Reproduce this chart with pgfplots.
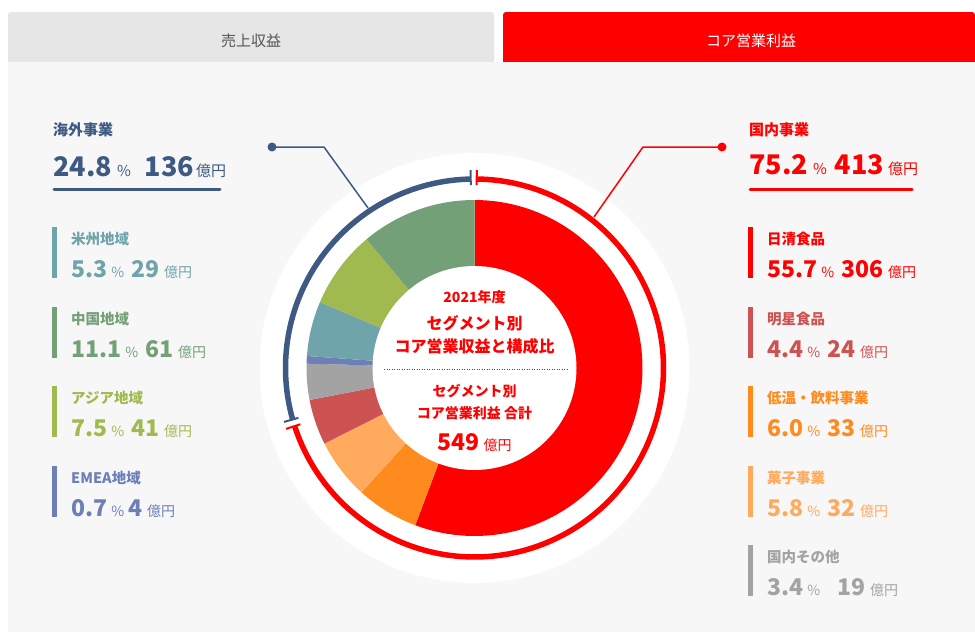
\documentclass[border=0pt]{standalone}
\usepackage{fontspec}
\setmainfont{Noto Sans CJK JP}
\usepackage{pgfplots}
\pgfplotsset{compat=1.18}
\definecolor{cRed}{HTML}{FF0000}
\definecolor{cMyojo}{HTML}{CD5252}
\definecolor{cTeion}{HTML}{FF8A1E}
\definecolor{cKashi}{HTML}{FFAA5C}
\definecolor{cOther}{HTML}{A3A3A3}
\definecolor{cEmea}{HTML}{6C7FB6}
\definecolor{cAme}{HTML}{6FA4AA}
\definecolor{cAsia}{HTML}{A1BA50}
\definecolor{cChina}{HTML}{74A077}
\definecolor{cBlue}{HTML}{3E5A82}
\definecolor{cPanel}{HTML}{F7F7F7}
\definecolor{cTab}{HTML}{E6E6E6}
\definecolor{cTabTxt}{HTML}{555555}
\newcommand{\fs}[1]{\fontsize{#1}{#1}\selectfont}
% donut slice: start, end (cumulative 億円, total 549), colour
\newcommand{\seg}[3]{%
  \addplot[draw=none, fill=#3, domain=#1:#2, samples=90, variable=\t]
    ({474.5+168*cos(90-\t*360/549)}, {368-168*sin(90-\t*360/549)}) -- (474.5,368) -- cycle;}
% side item: x of bar, top y, colour, label, pct, value, extra space
\newcommand{\sub}[7]{%
  \fill[#3] (#1,#2) rectangle (#1+5,#2+51);
  \node[anchor=base west, inner sep=0, text=#3] at (#1+19,#2+17) {\fs{14.5}\bfseries #4};
  \node[anchor=base west, inner sep=0, text=#3] at (#1+19,#2+50)
    {{\fs{23}\bfseries #5}\hspace{4pt}{\fs{14}\%}\hspace{#7}{\fs{23}\bfseries #6}\hspace{5pt}{\fs{14}億円}};}
\begin{document}
\begin{tikzpicture}
\begin{axis}[x=1pt, y=1pt, xmin=0, xmax=975, ymin=0, ymax=632, y dir=reverse,
  hide axis, scale only axis, clip=false]
% background and tabs
\fill[white] (0,0) rectangle (975,632);
\fill[cTab, rounded corners=3pt] (8,12) rectangle (494,72);
\fill[cRed, rounded corners=3pt] (503,12) rectangle (975,72);
\fill[cPanel] (8,62) rectangle (975,632);
\node[anchor=base, inner sep=0, text=cTabTxt] at (251,46) {\fs{15}売上収益};
\node[anchor=base, inner sep=0, text=white] at (751,46) {\fs{15}コア営業利益};
% halo
\fill[white] (474.5,368) circle[radius=215pt];
% donut slices
\seg{0}{306}{cRed}
\seg{306}{339}{cTeion}
\seg{339}{371}{cKashi}
\seg{371}{395}{cMyojo}
\seg{395}{414}{cOther}
\seg{414}{418}{cEmea}
\seg{418}{447}{cAme}
\seg{447}{488}{cAsia}
\seg{488}{549}{cChina}
\fill[white] (474.5,368) circle[radius=102pt];
% outer ring
\addplot[draw=cBlue, line width=5.5pt, domain=91.15:195.8, samples=100, variable=\t]
  ({474.5+189*cos(\t)}, {368-189*sin(\t)});
\addplot[draw=cRed, line width=5.5pt, domain=197.9:449.33, samples=160, variable=\t]
  ({474.5+189*cos(\t)}, {368-189*sin(\t)});
\draw[cBlue, line width=2pt] ({474.5+183*cos(91.15)},{368-183*sin(91.15)}) -- ({474.5+198*cos(91.15)},{368-198*sin(91.15)});
\draw[cRed, line width=2pt] ({474.5+183*cos(89.33)},{368-183*sin(89.33)}) -- ({474.5+198*cos(89.33)},{368-198*sin(89.33)});
\draw[cBlue, line width=2pt] ({474.5+183*cos(195.8)},{368-183*sin(195.8)}) -- ({474.5+198*cos(195.8)},{368-198*sin(195.8)});
\draw[cRed, line width=2pt] ({474.5+183*cos(197.9)},{368-183*sin(197.9)}) -- ({474.5+198*cos(197.9)},{368-198*sin(197.9)});
% leader lines
\draw[cBlue, line width=1.5pt] (272,147) -- (324,147) -- (368,208);
\fill[cBlue] (272,147) circle[radius=4.5pt];
\draw[cRed, line width=1.5pt] (722,147) -- (643,147) -- (594,217);
\fill[cRed] (722,147) circle[radius=4.5pt];
% centre text
\node[anchor=base, inner sep=0, text=cRed] at (474.5,302) {\fs{14}\bfseries 2021年度};
\node[anchor=base, inner sep=0, text=cRed] at (474.5,329) {\fs{16}\bfseries セグメント別};
\node[anchor=base, inner sep=0, text=cRed] at (474.5,352) {\fs{16}\bfseries コア営業収益と構成比};
\draw[cRed, line width=0.8pt, dash pattern=on 1.2pt off 1.3pt] (384,369.5) -- (567,369.5);
\node[anchor=base, inner sep=0, text=cRed] at (474.5,396) {\fs{14}\bfseries セグメント別};
\node[anchor=base, inner sep=0, text=cRed] at (474.5,418) {\fs{14}\bfseries コア営業利益 合計};
\node[anchor=base, inner sep=0, text=cRed] at (474.5,450) {{\fs{23}\bfseries 549}\hspace{4pt}{\fs{14}億円}};
% left block
\node[anchor=base west, inner sep=0, text=cBlue] at (53,135) {\fs{15}\bfseries 海外事業};
\node[anchor=base west, inner sep=0, text=cBlue] at (53,176)
  {{\fs{27}\bfseries 24.8}\hspace{5pt}{\fs{15}\%}\hspace{14pt}{\fs{27}\bfseries 136}\hspace{2pt}{\fs{15}億円}};
\draw[cBlue, line width=3pt, line cap=round] (54,189) -- (220,189);
\sub{52}{227}{cAme}{米州地域}{5.3}{29}{7pt}
\sub{52}{307}{cChina}{中国地域}{11.1}{61}{7pt}
\sub{52}{386}{cAsia}{アジア地域}{7.5}{41}{7pt}
\sub{52}{466}{cEmea}{EMEA地域}{0.7}{4}{4pt}
% right block
\node[anchor=base west, inner sep=0, text=cRed] at (749,135) {\fs{15}\bfseries 国内事業};
\node[anchor=base west, inner sep=0, text=cRed] at (749,174)
  {{\fs{27}\bfseries 75.2}\hspace{5pt}{\fs{15}\%}\hspace{8pt}{\fs{27}\bfseries 413}\hspace{4pt}{\fs{15}億円}};
\draw[cRed, line width=3pt, line cap=round] (750,189) -- (912,189);
\sub{748}{227}{cRed}{日清食品}{55.7}{306}{7pt}
\sub{748}{307}{cMyojo}{明星食品}{4.4}{24}{7pt}
\sub{748}{386}{cTeion}{低温・飲料事業}{6.0}{33}{7pt}
\sub{748}{466}{cKashi}{菓子事業}{5.8}{32}{7pt}
\sub{748}{545}{cOther}{国内その他}{3.4}{19}{17pt}
\end{axis}
\end{tikzpicture}
\end{document}
